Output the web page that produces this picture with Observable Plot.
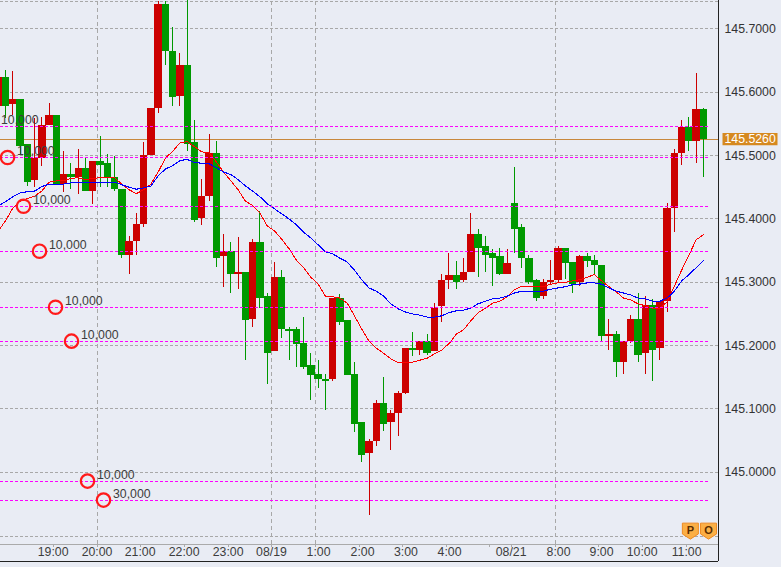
<!DOCTYPE html>
<html>
<head>
<meta charset="utf-8">
<script src="https://cdn.jsdelivr.net/npm/d3@7"></script>
<script src="https://cdn.jsdelivr.net/npm/@observablehq/plot@0.6"></script>
<style>html,body{margin:0;padding:0;background:#e9ecf4;overflow:hidden}svg{display:block}</style>
</head>
<body>
<div id="chart"></div>
<script>
const open = [145.577,145.624,145.580,145.588,145.517,145.460,145.496,145.547,145.564,145.454,145.470,145.466,145.479,145.444,145.490,145.487,145.466,145.447,145.343,145.364,145.391,145.500,145.574,145.738,145.665,145.593,145.643,145.520,145.400,145.435,145.503,145.340,145.349,145.313,145.316,145.241,145.362,145.277,145.190,145.308,145.226,145.225,145.203,145.168,145.154,145.147,145.146,145.274,145.239,145.154,145.078,145.029,145.049,145.109,145.078,145.092,145.125,145.195,145.193,145.206,145.190,145.261,145.302,145.310,145.302,145.316,145.375,145.356,145.345,145.340,145.313,145.424,145.386,145.338,145.302,145.277,145.299,145.302,145.354,145.331,145.299,145.340,145.334,145.327,145.215,145.218,145.174,145.206,145.241,145.187,145.264,145.195,145.270,145.416,145.503,145.544,145.523,145.572];
const close = [145.624,145.578,145.588,145.515,145.458,145.496,145.547,145.564,145.452,145.470,145.465,145.479,145.443,145.490,145.485,145.466,145.446,145.342,145.364,145.391,145.500,145.574,145.738,145.664,145.591,145.643,145.518,145.398,145.435,145.504,145.338,145.349,145.312,145.316,145.239,145.362,145.275,145.188,145.308,145.225,145.223,145.201,145.166,145.152,145.146,145.144,145.274,145.237,145.152,145.076,145.027,145.049,145.109,145.076,145.092,145.125,145.195,145.192,145.206,145.188,145.259,145.302,145.310,145.300,145.316,145.375,145.354,145.343,145.338,145.312,145.329,145.384,145.337,145.300,145.275,145.299,145.302,145.354,145.329,145.297,145.340,145.332,145.326,145.214,145.218,145.173,145.206,145.241,145.185,145.264,145.193,145.270,145.416,145.503,145.544,145.522,145.572,145.525];
const high = [145.632,145.635,145.632,145.588,145.517,145.558,145.560,145.582,145.564,145.506,145.488,145.509,145.495,145.490,145.530,145.501,145.498,145.447,145.373,145.409,145.520,145.574,145.744,145.744,145.702,145.662,145.746,145.556,145.462,145.534,145.522,145.375,145.362,145.370,145.316,145.368,145.411,145.282,145.331,145.318,145.229,145.228,145.244,145.187,145.176,145.155,145.274,145.280,145.239,145.174,145.078,145.051,145.114,145.150,145.098,145.127,145.196,145.220,145.206,145.217,145.267,145.312,145.346,145.332,145.338,145.409,145.383,145.372,145.351,145.354,145.351,145.481,145.391,145.342,145.304,145.305,145.334,145.357,145.354,145.331,145.343,145.345,145.342,145.327,145.241,145.222,145.206,145.248,145.283,145.278,145.272,145.270,145.425,145.509,145.555,145.560,145.629,145.574];
const low = [145.572,145.558,145.564,145.501,145.451,145.449,145.482,145.547,145.452,145.441,145.446,145.438,145.443,145.422,145.449,145.449,145.443,145.338,145.312,145.342,145.386,145.500,145.567,145.642,145.578,145.578,145.507,145.394,145.389,145.428,145.324,145.291,145.282,145.288,145.177,145.228,145.259,145.138,145.190,145.211,145.177,145.165,145.162,145.114,145.133,145.097,145.143,145.231,145.152,145.062,145.015,144.931,145.040,145.064,145.035,145.056,145.122,145.182,145.185,145.185,145.190,145.236,145.289,145.289,145.300,145.316,145.308,145.315,145.294,145.310,145.312,145.346,145.321,145.296,145.269,145.272,145.297,145.299,145.304,145.283,145.293,145.323,145.312,145.207,145.192,145.149,145.154,145.203,145.173,145.154,145.144,145.176,145.253,145.378,145.485,145.507,145.488,145.465];
const maShort = [145.381,145.397,145.417,145.428,145.432,145.436,145.444,145.458,145.460,145.460,145.464,145.465,145.462,145.464,145.465,145.465,145.465,145.455,145.446,145.440,145.446,145.455,145.474,145.496,145.507,145.520,145.522,145.514,145.506,145.504,145.490,145.474,145.460,145.446,145.428,145.421,145.409,145.389,145.381,145.368,145.353,145.335,145.323,145.308,145.297,145.278,145.277,145.275,145.267,145.247,145.226,145.207,145.196,145.188,145.179,145.173,145.173,145.174,145.177,145.180,145.187,145.193,145.203,145.218,145.225,145.239,145.252,145.259,145.267,145.270,145.277,145.288,145.294,145.294,145.293,145.293,145.297,145.299,145.300,145.302,145.304,145.308,145.312,145.302,145.293,145.285,145.275,145.272,145.266,145.263,145.259,145.259,145.269,145.294,145.319,145.343,145.367,145.375];
const maLong = [145.421,145.427,145.435,145.441,145.443,145.444,145.451,145.455,145.455,145.455,145.457,145.458,145.457,145.457,145.458,145.458,145.458,145.454,145.450,145.447,145.449,145.452,145.468,145.479,145.484,145.492,145.494,145.489,145.488,145.487,145.481,145.474,145.470,145.462,145.452,145.444,145.435,145.424,145.416,145.408,145.400,145.391,145.379,145.370,145.359,145.348,145.345,145.338,145.332,145.319,145.304,145.291,145.286,145.278,145.266,145.258,145.253,145.250,145.248,145.245,145.245,145.247,145.252,145.255,145.256,145.259,145.266,145.270,145.274,145.275,145.278,145.283,145.286,145.286,145.286,145.286,145.289,145.291,145.293,145.296,145.297,145.299,145.299,145.297,145.291,145.286,145.283,145.280,145.275,145.274,145.270,145.270,145.275,145.286,145.302,145.312,145.323,145.334];

const priceTicks = [145.7, 145.6, 145.5, 145.4, 145.3, 145.2, 145.1, 145.0];
const extraGrid = [145.7434, 144.899];
const timeTicks = [6.6, 12.65, 18.57, 24.62, 30.67, 36.64, 42.64, 48.69, 54.66, 60.66, 66.58, 69.6, 75.65, 81.57, 87.62, 93.67];
const timeLabels = ["19:00","20:00","21:00","22:00","23:00","08/19","1:00","2:00","3:00","4:00","","08/21","8:00","9:00","10:00","11:00"];
const timeGrid = [12.65, 36.64, 42.64, 75.65];

const markerIndex = [-1.93, 0.28, 2.48, 4.68, 6.88, 9.08, 11.28, 13.48];
const markerPrice = [145.546, 145.497, 145.420, 145.349, 145.2605, 145.207, 144.986, 144.956];
const markerSize = [10000, 10000, 10000, 10000, 10000, 10000, 10000, 30000];
const lastPrice = 145.526;
const badgeLabels = ["P", "O"];
const badgeIndex = [94.2, 96.7];
const badgePrice = 144.907;

const xDomain = [-0.688, 98.07];
const yDomain = [144.8859, 145.7449];
const frameBottom = 144.859;
const magentaEnd = 96.7;

const red = "#cc0000", green = "#009900";
const candles = open.map((o, k) => ({i: k - 1, o, c: close[k], h: high[k], l: low[k]}));
const colorOf = d => d.c > d.o ? red : green;
const markers = markerIndex.map((x, k) => ({x, y: markerPrice[k], v: markerSize[k]}));
const badges = badgeLabels.map((t, k) => ({t, x: badgeIndex[k]}));
const crisp = {shapeRendering: "crispEdges"};
const gridStyle = {stroke: "#a8a8a8", strokeWidth: 1, strokeDasharray: "3 2", ...crisp};

const shield = {draw(ctx, size) {
  const s = Math.sqrt(size / Math.PI);
  ctx.moveTo(-s, -s); ctx.lineTo(s, -s); ctx.lineTo(s, s * 0.35);
  ctx.lineTo(0, s); ctx.lineTo(-s, s * 0.35); ctx.closePath();
}};
const tag = {draw(ctx) { ctx.rect(-27.5, -6.2, 55, 12.4); }};
const fmt = v => v.toLocaleString("en-US");

const chart = Plot.plot({
  width: 781, height: 567,
  marginTop: 0, marginLeft: 0, marginRight: 63, marginBottom: 23,
  style: {background: "#e9ecf4", fontFamily: "'Liberation Sans', Arial, sans-serif", fontSize: "12px"},
  x: {domain: xDomain, axis: null},
  y: {domain: yDomain, axis: null},
  marks: [
    Plot.ruleY([...priceTicks, ...extraGrid], {x1: xDomain[0], x2: xDomain[1], ...gridStyle}),
    Plot.ruleX(timeGrid, {y1: yDomain[0], y2: yDomain[1], ...gridStyle, strokeDasharray: "4 3"}),
    Plot.ruleY([lastPrice], {x1: xDomain[0], x2: xDomain[1], stroke: "#c8883c", strokeWidth: 1, ...crisp}),
    Plot.ruleX(candles, {x: "i", y1: "l", y2: "h", stroke: colorOf, strokeWidth: 1, ...crisp}),
    Plot.ruleX(candles, {x: "i", y1: "o", y2: "c", stroke: colorOf, strokeWidth: 7.4, ...crisp}),
    Plot.line(candles, {x: "i", y: (d, k) => maShort[k], stroke: "#ff0000", strokeWidth: 1, ...crisp}),
    Plot.line(candles, {x: "i", y: (d, k) => maLong[k], stroke: "#0000ff", strokeWidth: 1.1, ...crisp}),
    Plot.ruleY(markerPrice, {x1: xDomain[0], x2: magentaEnd, stroke: "#ff00ff", strokeWidth: 1, strokeDasharray: "3 2", ...crisp}),
    Plot.dot(markers, {x: "x", y: "y", r: 6.7, stroke: "#ff1a1a", strokeWidth: 2.2, fill: "none"}),
    Plot.text(markers, {x: "x", y: "y", text: d => fmt(d.v), textAnchor: "start", dx: 9.5, dy: -6.5, fontSize: 12.3, fill: "#3c3c3c"}),
    Plot.dot(badges, {x: "x", y: badgePrice, r: 8, symbol: shield, fill: "#fbaf45", stroke: "#ee8a22", strokeWidth: 1}),
    Plot.text(badges, {x: "x", y: badgePrice, text: "t", fontSize: 11, fontWeight: "bold", fill: "#5a2c00", dy: -1}),
    Plot.ruleY([yDomain[0]], {x1: xDomain[0], x2: xDomain[1], stroke: "#aaaaaa", strokeWidth: 1, ...crisp}),
    Plot.ruleX(timeTicks, {y1: yDomain[0], y2: yDomain[0] - 0.005, stroke: "#aaaaaa", strokeWidth: 1, ...crisp}),
    Plot.text(timeLabels, {x: (d, k) => timeTicks[k], text: d => d, frameAnchor: "bottom", textAnchor: "end", dx: 15, dy: 11, fontSize: 12.3, fill: "#3c3c3c"}),
    Plot.ruleX([xDomain[1]], {y1: frameBottom, y2: yDomain[1], stroke: "#222", strokeWidth: 1, ...crisp}),
    Plot.ruleY([frameBottom], {x1: xDomain[0], x2: xDomain[1], stroke: "#222", strokeWidth: 1, ...crisp}),
    Plot.text(priceTicks, {y: d => d, text: d => d.toFixed(4), frameAnchor: "right", textAnchor: "start", dx: 6, fontSize: 12.3, fill: "#333"}),
    Plot.dot([lastPrice], {y: d => d, frameAnchor: "right", dx: 31.5, r: 6, symbol: tag, fill: "#d6891f", stroke: "none"}),
    Plot.text([lastPrice], {y: d => d, text: d => d.toFixed(4), frameAnchor: "right", textAnchor: "start", dx: 6, fontSize: 12.3, fill: "#fff"})
  ]
});
document.getElementById("chart").append(chart);
</script>
</body>
</html>
